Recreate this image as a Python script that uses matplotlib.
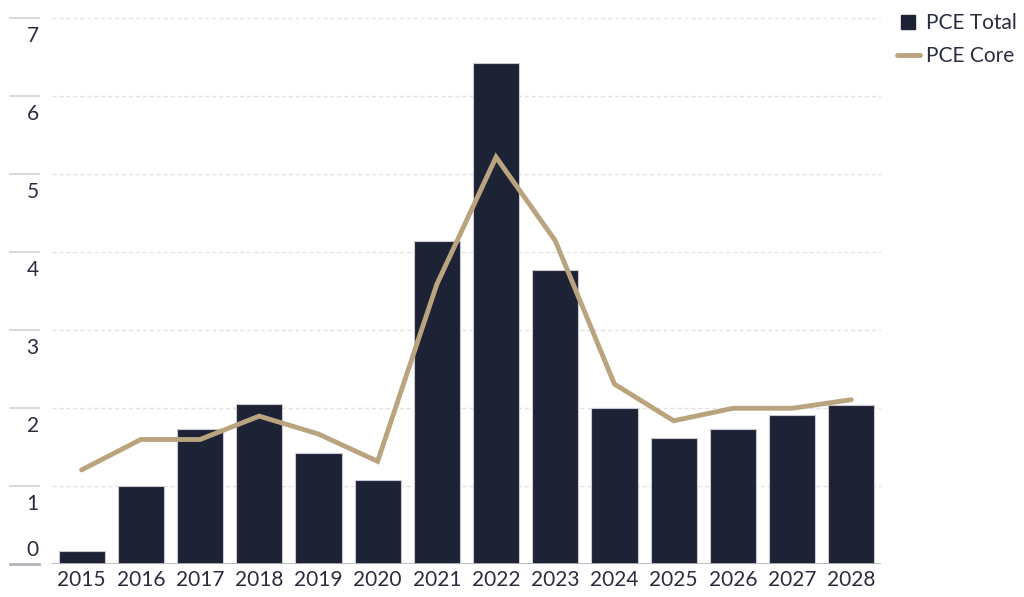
import numpy as np
import matplotlib.pyplot as plt
from matplotlib.lines import Line2D
import matplotlib.transforms as mtransforms

plt.rcParams['font.family'] = ['Lato', 'DejaVu Sans']

# Data
years = ['2015', '2016', '2017', '2018', '2019', '2020', '2021',
         '2022', '2023', '2024', '2025', '2026', '2027', '2028']
pce_total = [0.17, 1.0, 1.73, 2.06, 1.43, 1.08, 4.15,
             6.43, 3.77, 2.0, 1.62, 1.74, 1.91, 2.04]
pce_core = [1.21, 1.6, 1.6, 1.9, 1.67, 1.32, 3.59,
            5.22, 4.15, 2.31, 1.84, 2.0, 2.0, 2.11]
y_ticks = [0, 1, 2, 3, 4, 5, 6, 7]

bar_color = '#1e2235'
line_color = '#b9a47f'
text_color = '#2a2d40'

fig = plt.figure(figsize=(10.24, 5.97), dpi=100)
ax = fig.add_axes([0.0508, 0.0548, 0.8094, 0.9145])

x = np.arange(len(years))
ax.bar(x, pce_total, width=0.78, color=bar_color, edgecolor='#c9c9d2',
       linewidth=0.8, zorder=2)
ax.plot(x, pce_core, color=line_color, linewidth=3.5, solid_capstyle='round',
        solid_joinstyle='miter', zorder=3)

ax.set_xlim(-0.5, len(years) - 0.5)
ax.set_ylim(0, 7)

# gridlines: dashed in plot, short solid piece under the labels
for v in y_ticks[1:]:
    ax.axhline(v, color='#e2e2e2', linewidth=1, linestyle=(0, (3, 2)), zorder=1)
    ax.axhline(v, xmin=-0.051, xmax=-0.016, color='#d8d8d8', linewidth=1.4,
               clip_on=False)
ax.axhline(0, color='#b3b3bb', linewidth=2, zorder=4)
ax.axhline(0, xmin=-0.051, xmax=-0.016, color='#b3b3bb', linewidth=2,
           clip_on=False)

# y labels sit between gridlines
trans = mtransforms.blended_transform_factory(ax.transAxes, ax.transData)
for v in y_ticks:
    pos = 0.18 if v == 0 else v - 0.23
    ax.text(-0.016, pos, str(v), transform=trans, ha='right', va='center',
            fontsize=15, color=text_color)

ax.set_yticks([])
ax.set_xticks(x)
ax.set_xticklabels(years, fontsize=15, color=text_color)
ax.tick_params(axis='x', length=0, pad=4)
for s in ax.spines.values():
    s.set_visible(False)

handles = [
    Line2D([], [], marker='s', linestyle='none', color=bar_color,
           markersize=10),
    Line2D([], [], color=line_color, linewidth=3.5, solid_capstyle='round'),
]
fig.legend(handles, ['PCE Total', 'PCE Core'], loc='upper left',
           bbox_to_anchor=(0.876, 0.978), frameon=False, fontsize=15,
           handlelength=1.1, handletextpad=0.3, labelspacing=0.64,
           borderpad=0, borderaxespad=0, labelcolor=text_color)

fig.savefig('out.png', dpi=100)
